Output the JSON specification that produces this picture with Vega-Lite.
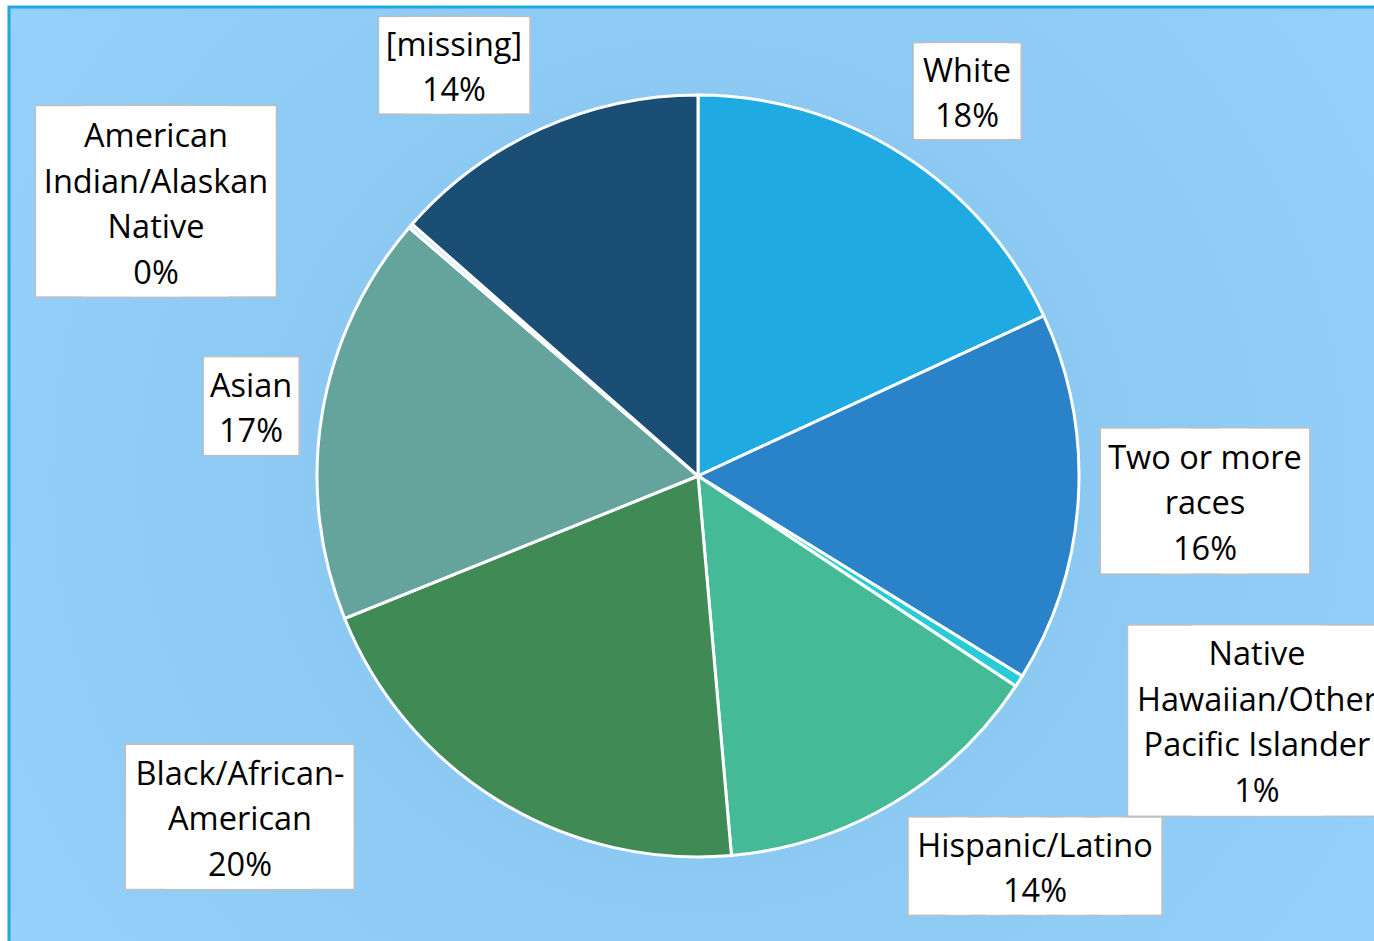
{
  "$schema": "https://vega.github.io/schema/vega-lite/v6.json",
  "width": 1378,
  "height": 938,
  "autosize": "none",
  "padding": {"left": 9, "top": 7, "right": 0, "bottom": 0},
  "background": "white",
  "config": {"view": {"stroke": null}},
  "data": {"values": [
    {"order": 1, "race": "White", "pct": 18.1, "label": "White\n18%"},
    {"order": 2, "race": "Two or more races", "pct": 15.7, "label": "Two or more\nraces\n16%"},
    {"order": 3, "race": "Native Hawaiian/Other Pacific Islander", "pct": 0.5, "label": "Native\nHawaiian/Other\nPacific Islander\n1%"},
    {"order": 4, "race": "Hispanic/Latino", "pct": 14.3, "label": "Hispanic/Latino\n14%"},
    {"order": 5, "race": "Black/African-American", "pct": 20.3, "label": "Black/African-\nAmerican\n20%"},
    {"order": 6, "race": "Asian", "pct": 17.4, "label": "Asian\n17%"},
    {"order": 7, "race": "American Indian/Alaskan Native", "pct": 0.2, "label": "American\nIndian/Alaskan\nNative\n0%"},
    {"order": 8, "race": "[missing]", "pct": 13.5, "label": "[missing]\n14%"}
  ]},
  "transform": [
    {"stack": "pct", "groupby": [], "sort": [{"field": "order", "order": "ascending"}], "offset": "normalize", "as": ["t0", "t1"]}
  ],
  "layer": [
    {
      "data": {"values": [{"panel": "background"}]},
      "mark": {"type": "rect", "stroke": "#1FA8E0", "strokeWidth": 3,
        "fill": {"gradient": "radial", "x1": 0.5, "y1": 0.5, "r1": 0, "x2": 0.5, "y2": 0.5, "r2": 0.72,
                 "stops": [{"offset": 0, "color": "#84C2EC"}, {"offset": 1, "color": "#97D3FD"}]}}
    },
    {
      "mark": {"type": "arc", "outerRadius": 381, "stroke": "white", "strokeWidth": 3},
      "encoding": {
        "theta": {"field": "t0", "type": "quantitative", "stack": null, "scale": {"domain": [0, 1]}},
        "theta2": {"field": "t1"},
        "color": {"field": "race", "type": "nominal", "legend": null,
          "scale": {"domain": ["White", "Two or more races", "Native Hawaiian/Other Pacific Islander", "Hispanic/Latino", "Black/African-American", "Asian", "American Indian/Alaskan Native", "[missing]"],
                    "range": ["#1FABE1", "#2A83C8", "#29CBD8", "#45BA97", "#3F8A55", "#65A39D", "#CFE6F2", "#1B4E74"]}}
      }
    },
    {
      "transform": [{"filter": {"field": "order", "equal": 1}}],
      "encoding": {"theta": {"field": "t0", "type": "quantitative", "stack": null}},
      "layer": [
        {"mark": {"type": "text", "radius": 469.7, "thetaOffset": 0.6098, "dy": 0.8, "font": "DejaVu Sans Mono", "fontSize": 17.1, "align": "center", "baseline": "middle", "fill": "#BFBFBF", "stroke": "#BFBFBF", "strokeWidth": 78, "strokeJoin": "miter", "text": "███"}},
        {"mark": {"type": "text", "radius": 469.7, "thetaOffset": 0.6098, "dy": 0.8, "font": "DejaVu Sans Mono", "fontSize": 17.1, "align": "center", "baseline": "middle", "fill": "white", "stroke": "white", "strokeWidth": 75, "strokeJoin": "miter", "text": "███"}},
        {"mark": {"type": "text", "radius": 469.7, "thetaOffset": 0.6098, "dy": -19.35, "font": "Open Sans", "fontSize": 32.5, "lineHeight": 45.7, "lineBreak": "\n", "align": "center", "baseline": "middle", "fill": "black"},
         "encoding": {"text": {"field": "label"}}}
      ]
    },
    {
      "transform": [{"filter": {"field": "order", "equal": 2}}],
      "encoding": {"theta": {"field": "t0", "type": "quantitative", "stack": null}},
      "layer": [
        {"mark": {"type": "text", "radius": 507.6, "thetaOffset": 0.4828, "dy": 4.5, "font": "DejaVu Sans Mono", "fontSize": 99.4, "align": "center", "baseline": "middle", "fill": "#BFBFBF", "stroke": "#BFBFBF", "strokeWidth": 29.5, "strokeJoin": "miter", "text": "███"}},
        {"mark": {"type": "text", "radius": 507.6, "thetaOffset": 0.4828, "dy": 4.5, "font": "DejaVu Sans Mono", "fontSize": 99.4, "align": "center", "baseline": "middle", "fill": "white", "stroke": "white", "strokeWidth": 26.5, "strokeJoin": "miter", "text": "███"}},
        {"mark": {"type": "text", "radius": 507.6, "thetaOffset": 0.4828, "dy": -42.2, "font": "Open Sans", "fontSize": 32.5, "lineHeight": 45.7, "lineBreak": "\n", "align": "center", "baseline": "middle", "fill": "black"},
         "encoding": {"text": {"field": "label"}}}
      ]
    },
    {
      "transform": [{"filter": {"field": "order", "equal": 3}}],
      "encoding": {"theta": {"field": "t0", "type": "quantitative", "stack": null}},
      "layer": [
        {"mark": {"type": "text", "radius": 609.9, "thetaOffset": -0.1414, "dy": 4.8, "font": "DejaVu Sans Mono", "fontSize": 105.6, "align": "center", "baseline": "middle", "fill": "#BFBFBF", "stroke": "#BFBFBF", "strokeWidth": 67.3, "strokeJoin": "miter", "text": "███"}},
        {"mark": {"type": "text", "radius": 609.9, "thetaOffset": -0.1414, "dy": 4.8, "font": "DejaVu Sans Mono", "fontSize": 105.6, "align": "center", "baseline": "middle", "fill": "white", "stroke": "white", "strokeWidth": 64.3, "strokeJoin": "miter", "text": "███"}},
        {"mark": {"type": "text", "radius": 609.9, "thetaOffset": -0.1414, "dy": -65.05, "font": "Open Sans", "fontSize": 32.5, "lineHeight": 45.7, "lineBreak": "\n", "align": "center", "baseline": "middle", "fill": "black"},
         "encoding": {"text": {"field": "label"}}}
      ]
    },
    {
      "transform": [{"filter": {"field": "order", "equal": 4}}],
      "encoding": {"theta": {"field": "t0", "type": "quantitative", "stack": null}},
      "layer": [
        {"mark": {"type": "text", "radius": 515.4, "thetaOffset": 0.2738, "dy": 2.9, "font": "DejaVu Sans Mono", "fontSize": 63.7, "align": "center", "baseline": "middle", "fill": "#BFBFBF", "stroke": "#BFBFBF", "strokeWidth": 24, "strokeJoin": "miter", "text": "██████"}},
        {"mark": {"type": "text", "radius": 515.4, "thetaOffset": 0.2738, "dy": 2.9, "font": "DejaVu Sans Mono", "fontSize": 63.7, "align": "center", "baseline": "middle", "fill": "white", "stroke": "white", "strokeWidth": 21, "strokeJoin": "miter", "text": "██████"}},
        {"mark": {"type": "text", "radius": 515.4, "thetaOffset": 0.2738, "dy": -19.35, "font": "Open Sans", "fontSize": 32.5, "lineHeight": 45.7, "lineBreak": "\n", "align": "center", "baseline": "middle", "fill": "black"},
         "encoding": {"text": {"field": "label"}}}
      ]
    },
    {
      "transform": [{"filter": {"field": "order", "equal": 5}}],
      "encoding": {"theta": {"field": "t0", "type": "quantitative", "stack": null}},
      "layer": [
        {"mark": {"type": "text", "radius": 571.0, "thetaOffset": 1.0188, "dy": 3.0, "font": "DejaVu Sans Mono", "fontSize": 67.4, "align": "center", "baseline": "middle", "fill": "#BFBFBF", "stroke": "#BFBFBF", "strokeWidth": 66.7, "strokeJoin": "miter", "text": "████"}},
        {"mark": {"type": "text", "radius": 571.0, "thetaOffset": 1.0188, "dy": 3.0, "font": "DejaVu Sans Mono", "fontSize": 67.4, "align": "center", "baseline": "middle", "fill": "white", "stroke": "white", "strokeWidth": 63.7, "strokeJoin": "miter", "text": "████"}},
        {"mark": {"type": "text", "radius": 571.0, "thetaOffset": 1.0188, "dy": -42.2, "font": "Open Sans", "fontSize": 32.5, "lineHeight": 45.7, "lineBreak": "\n", "align": "center", "baseline": "middle", "fill": "black"},
         "encoding": {"text": {"field": "label"}}}
      ]
    },
    {
      "transform": [{"filter": {"field": "order", "equal": 6}}],
      "encoding": {"theta": {"field": "t0", "type": "quantitative", "stack": null}},
      "layer": [
        {"mark": {"type": "text", "radius": 452.4, "thetaOffset": 0.5386, "dy": 0.2, "font": "DejaVu Sans Mono", "fontSize": 5.36, "align": "center", "baseline": "middle", "fill": "#BFBFBF", "stroke": "#BFBFBF", "strokeWidth": 93.8, "strokeJoin": "miter", "text": "█"}},
        {"mark": {"type": "text", "radius": 452.4, "thetaOffset": 0.5386, "dy": 0.2, "font": "DejaVu Sans Mono", "fontSize": 5.36, "align": "center", "baseline": "middle", "fill": "white", "stroke": "white", "strokeWidth": 90.8, "strokeJoin": "miter", "text": "█"}},
        {"mark": {"type": "text", "radius": 452.4, "thetaOffset": 0.5386, "dy": -19.35, "font": "Open Sans", "fontSize": 32.5, "lineHeight": 45.7, "lineBreak": "\n", "align": "center", "baseline": "middle", "fill": "black"},
         "encoding": {"text": {"field": "label"}}}
      ]
    },
    {
      "transform": [{"filter": {"field": "order", "equal": 7}}],
      "encoding": {"theta": {"field": "t0", "type": "quantitative", "stack": null}},
      "layer": [
        {"mark": {"type": "text", "radius": 607.3, "thetaOffset": -0.2419, "dy": 3.5, "font": "DejaVu Sans Mono", "fontSize": 77.6, "align": "center", "baseline": "middle", "fill": "#BFBFBF", "stroke": "#BFBFBF", "strokeWidth": 100.8, "strokeJoin": "miter", "text": "███"}},
        {"mark": {"type": "text", "radius": 607.3, "thetaOffset": -0.2419, "dy": 3.5, "font": "DejaVu Sans Mono", "fontSize": 77.6, "align": "center", "baseline": "middle", "fill": "white", "stroke": "white", "strokeWidth": 97.8, "strokeJoin": "miter", "text": "███"}},
        {"mark": {"type": "text", "radius": 607.3, "thetaOffset": -0.2419, "dy": -65.05, "font": "Open Sans", "fontSize": 32.5, "lineHeight": 45.7, "lineBreak": "\n", "align": "center", "baseline": "middle", "fill": "black"},
         "encoding": {"text": {"field": "label"}}}
      ]
    },
    {
      "transform": [{"filter": {"field": "order", "equal": 8}}],
      "encoding": {"theta": {"field": "t0", "type": "quantitative", "stack": null}},
      "layer": [
        {"mark": {"type": "text", "radius": 478.0, "thetaOffset": 0.3124, "dy": 1.9, "font": "DejaVu Sans Mono", "fontSize": 43.3, "align": "center", "baseline": "middle", "fill": "#BFBFBF", "stroke": "#BFBFBF", "strokeWidth": 47.7, "strokeJoin": "miter", "text": "████"}},
        {"mark": {"type": "text", "radius": 478.0, "thetaOffset": 0.3124, "dy": 1.9, "font": "DejaVu Sans Mono", "fontSize": 43.3, "align": "center", "baseline": "middle", "fill": "white", "stroke": "white", "strokeWidth": 44.7, "strokeJoin": "miter", "text": "████"}},
        {"mark": {"type": "text", "radius": 478.0, "thetaOffset": 0.3124, "dy": -19.35, "font": "Open Sans", "fontSize": 32.5, "lineHeight": 45.7, "lineBreak": "\n", "align": "center", "baseline": "middle", "fill": "black"},
         "encoding": {"text": {"field": "label"}}}
      ]
    }
  ]
}
